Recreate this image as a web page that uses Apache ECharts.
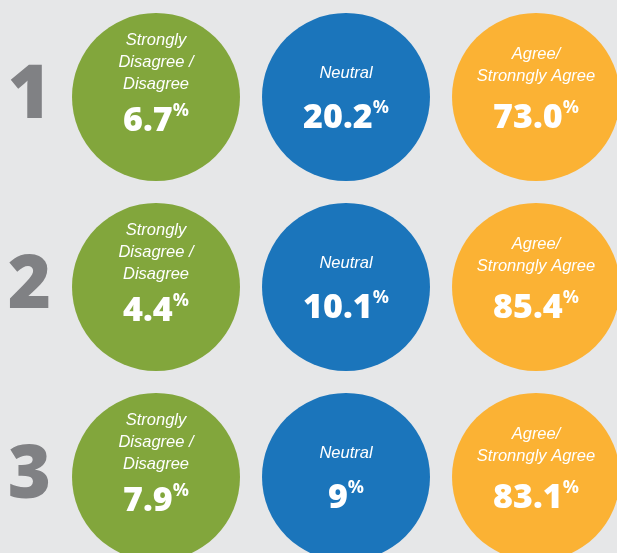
<!DOCTYPE html>
<html>
<head>
<meta charset="utf-8">
<style>
  html, body { margin: 0; padding: 0; background: #e6e7e8; }
  #chart { width: 617px; height: 553px; }
</style>
<script src="https://cdn.jsdelivr.net/npm/echarts@6/dist/echarts.min.js"></script>
</head>
<body>
<div id="chart"></div>
<script>
const rows = ['1', '2', '3'];
const groups = ['Strongly\nDisagree /\nDisagree', 'Neutral', 'Agree/\nStronngly Agree'];
const disagree = ['6.7', '4.4', '7.9'];
const neutral = ['20.2', '10.1', '9'];
const agree = ['73.0', '85.4', '83.1'];

const colors = ['#82a63c', '#1b75bb', '#fbb234'];

// one scatter series per answer group, big circles with the label inside
function makeSeries(idx, values, offsetY, valueLineHeight) {
    return {
        type: 'scatter',
        symbolSize: 168,
        itemStyle: {color: colors[idx], opacity: 1},
        emphasis: {disabled: true},
        data: values.map((v, r) => [groups[idx], rows[r], v]),
        label: {
            show: true,
            position: 'inside',
            offset: [0, offsetY],
            formatter: p => groups[idx].split('\n').map(s => '{t|' + s + '}').join('\n')
                + '\n{v|' + p.value[2] + '}{p|%}',
            rich: {
                t: {
                    fontFamily: '"Liberation Sans Narrow", "Liberation Sans", sans-serif',
                    fontStyle: 'italic',
                    fontSize: 16.5,
                    color: '#fff',
                    lineHeight: 22
                },
                v: {
                    fontFamily: '"Open Sans", sans-serif',
                    fontWeight: 800,
                    fontSize: 34,
                    color: '#fff',
                    lineHeight: valueLineHeight
                },
                p: {
                    fontFamily: '"Open Sans", sans-serif',
                    fontWeight: 'bold',
                    fontSize: 18,
                    color: '#fff',
                    padding: [0, 0, 20, 0]
                }
            }
        }
    };
}

const chart = echarts.init(document.getElementById('chart'));
chart.setOption({
    animation: false,
    backgroundColor: '#e6e7e8',
    grid: {left: 61, top: 2, width: 570, height: 570, outerBoundsMode: 'none'},
    xAxis: {
        type: 'category',
        data: groups,
        show: false
    },
    yAxis: {
        type: 'category',
        data: rows,
        inverse: true,
        axisLine: {show: false},
        axisTick: {show: false},
        splitLine: {show: false},
        axisLabel: {
            fontFamily: '"Open Sans", sans-serif',
            fontWeight: 800,
            fontSize: 74,
            color: '#808184',
            margin: 10
        }
    },
    series: [
        makeSeries(0, disagree, -9, 52),
        makeSeries(1, neutral, 10, 68),
        makeSeries(2, agree, -1, 62)
    ]
});
</script>
</body>
</html>
